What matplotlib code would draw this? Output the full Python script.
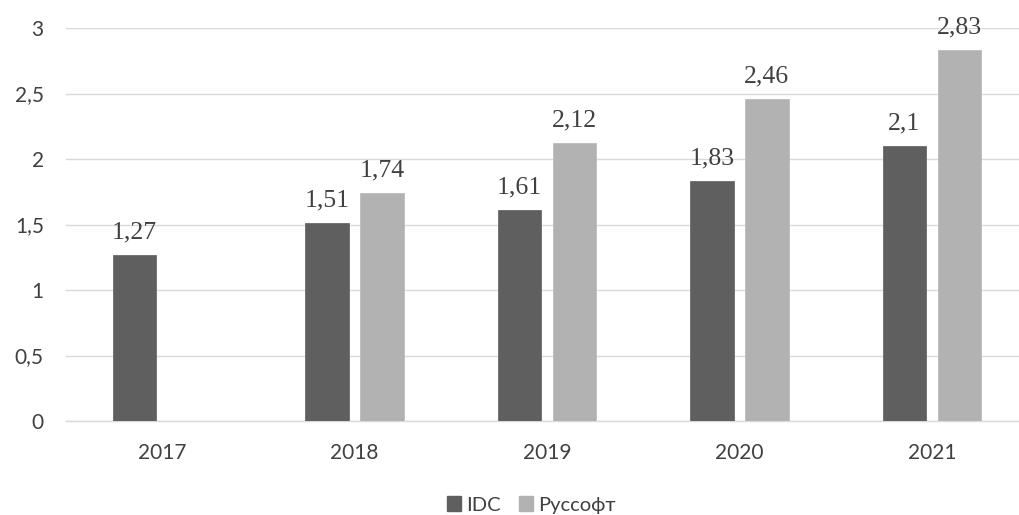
import matplotlib.pyplot as plt
import numpy as np

years = ['2017', '2018', '2019', '2020', '2021']
idc = [1.27, 1.51, 1.61, 1.83, 2.1]
russoft = [None, 1.74, 2.12, 2.46, 2.83]
y_ticks = [0, 0.5, 1, 1.5, 2, 2.5, 3]
y_tick_labels = ['0', '0,5', '1', '1,5', '2', '2,5', '3']

dark = '#5f5f5f'
light = '#b2b2b2'
grid = '#d9d9d9'
text_col = '#404040'

fig = plt.figure(figsize=(10.19, 5.15), dpi=100)
ax = fig.add_axes([66 / 1019, 94 / 515, 962 / 1019, 393 / 515])

x = np.arange(len(years))
w = 0.225
off = 0.143


def fmt(v):
    return f'{v:g}'.replace('.', ',')


for xi, v in zip(x, idc):
    ax.bar(xi - off, v, w, color=dark, edgecolor='#6a6a6a', linewidth=0.6, zorder=3)
    ax.annotate(fmt(v), (xi - off, v), xytext=(0, 12), textcoords='offset points',
                ha='center', va='baseline', fontsize=18.5,
                family='Liberation Serif', color=text_col)
for xi, v in zip(x, russoft):
    if v is None:
        continue
    ax.bar(xi + off, v, w, color=light, edgecolor='#bcbcbc', linewidth=0.6, zorder=3)
    ax.annotate(fmt(v), (xi + off, v), xytext=(0, 12), textcoords='offset points',
                ha='center', va='baseline', fontsize=18.5,
                family='Liberation Serif', color=text_col)

ax.set_xlim(-0.5, len(years) - 0.5)
ax.set_ylim(0, 3)
ax.set_xticks(x)
ax.set_xticklabels(years, family='Lato', fontsize=15, color=text_col)
ax.set_yticks(y_ticks)
ax.set_yticklabels(y_tick_labels, family='Lato', fontsize=15, color=text_col)
ax.tick_params(axis='both', length=0)
ax.tick_params(axis='y', pad=16)
ax.tick_params(axis='x', pad=16)
ax.grid(axis='y', color=grid, linewidth=1.0, zorder=0)
for s in ['top', 'right', 'left']:
    ax.spines[s].set_visible(False)
ax.spines['bottom'].set_color(grid)
ax.spines['bottom'].set_linewidth(1.0)

handles = [plt.Rectangle((0, 0), 1, 1, color=dark), plt.Rectangle((0, 0), 1, 1, color=light)]
fig.legend(handles, ['IDC', 'Руссофт'], loc='center', bbox_to_anchor=(531 / 1019, 1 - 505 / 515),
           ncol=2, frameon=False, prop={'family': 'Lato', 'size': 14.5},
           handlelength=0.7, handleheight=0.7, handletextpad=0.25, columnspacing=0.9,
           borderpad=0, labelcolor=text_col)

fig.savefig('out.png', dpi=100)
